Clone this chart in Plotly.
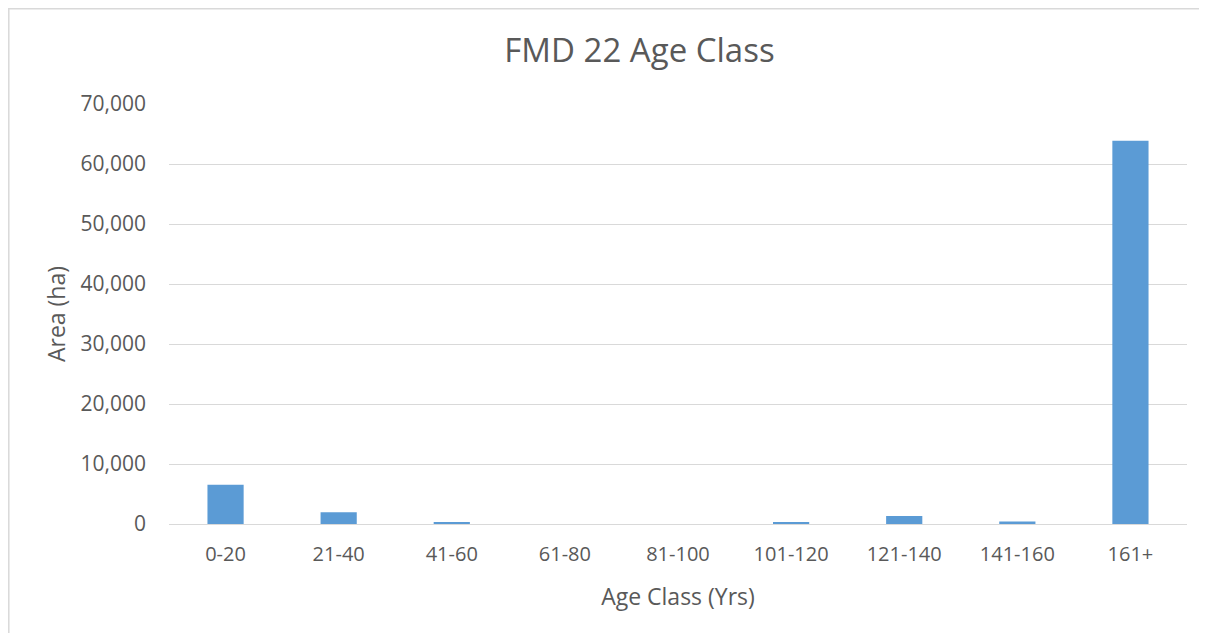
import plotly.graph_objects as go

categories = ["0-20", "21-40", "41-60", "61-80", "81-100", "101-120", "121-140", "141-160", "161+"]
area_ha = [6560, 1940, 300, 0, 0, 170, 1340, 400, 63870]
y_ticks = [0, 10000, 20000, 30000, 40000, 50000, 60000, 70000]

# page is offset by the 8px body margin
W, H = 1199, 625
L, R, T, B = 161, 20, 96, 109
pw = W - L - R
ph = H - T - B

fig = go.Figure(go.Bar(x=categories, y=area_ha, marker=dict(color="#5B9BD5", line=dict(width=0)),
                       width=0.32))

border = dict(color="#D9D9D9", width=1.5)

fig.update_layout(
    width=W, height=H,
    margin=dict(l=L, r=R, t=T, b=B, autoexpand=False),
    paper_bgcolor="white", plot_bgcolor="white",
    font=dict(family="Open Sans", color="#595959", size=20),
    title=dict(text="FMD 22 Age Class", x=631.5 / W, xref="container", xanchor="center",
               y=1 - 42 / H, yref="container", yanchor="middle",
               font=dict(size=33, color="#595959", family="Open Sans")),
    showlegend=False,
    bargap=0.68,
    xaxis=dict(title=dict(text="Age Class (Yrs)", standoff=22, font=dict(size=23)),
               showgrid=False, showline=True, linecolor="#D9D9D9", linewidth=1,
               ticks="", ticklabelstandoff=12, tickfont=dict(size=20), range=[-0.5, 8.5]),
    yaxis=dict(title=dict(text="Area (ha)", standoff=8, font=dict(size=23)),
               range=[0, 70000], tickvals=y_ticks, tickformat=",", showgrid=True,
               gridcolor="#D9D9D9", gridwidth=1, zeroline=False, showline=False,
               ticks="", ticklen=0, ticklabelstandoff=22, tickfont=dict(size=21)),
    shapes=[
        dict(type="line", xref="paper", yref="paper",
             x0=(0.8 - L) / pw, x1=(0.8 - L) / pw, y0=-B / ph, y1=(H - T) / ph, line=border),
        dict(type="line", xref="paper", yref="paper",
             x0=-L / pw, x1=(W - L) / pw, y0=(ph + T - 0.8) / ph, y1=(ph + T - 0.8) / ph, line=border),
    ],
)

fig.write_html("out.html")
